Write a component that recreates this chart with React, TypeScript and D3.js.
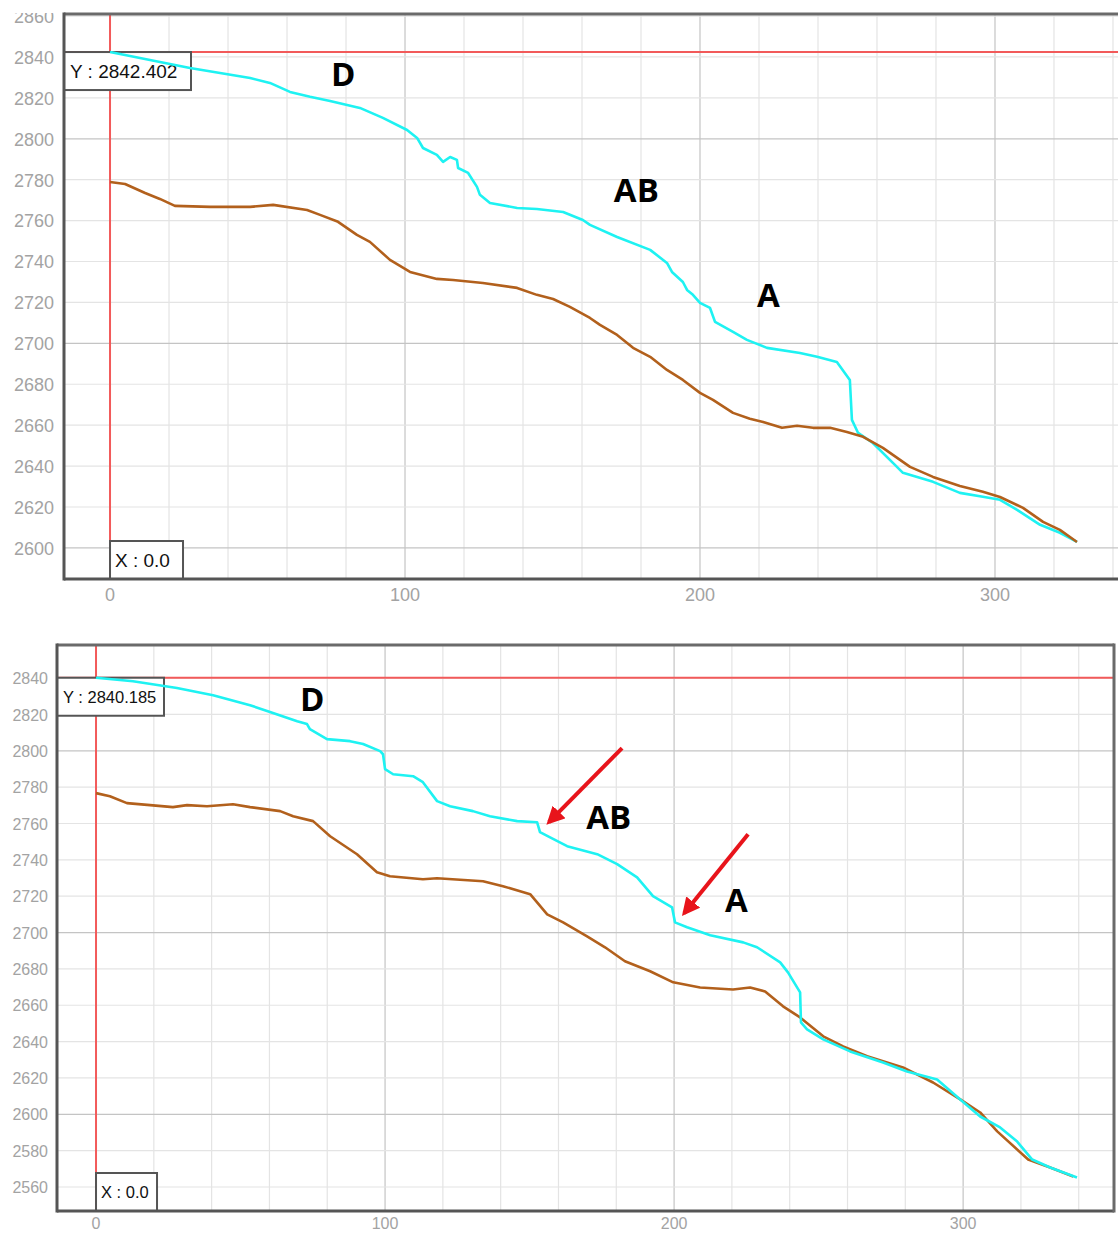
import React from 'react';
import * as d3 from 'd3';

// top chart, cyan trace [x, depth]
const topCyan: [number, number][] = [
  [0, 2842.4], [27.1, 2834.6], [47.5, 2829.7], [54.2, 2827.3], [61.0, 2822.9], [67.8, 2820.5],
  [74.6, 2818.5], [84.7, 2815.1], [92.5, 2810.2], [100.7, 2804.3], [104.1, 2800.4], [106.1, 2795.5],
  [110.8, 2792.1], [112.9, 2788.7], [115.3, 2791.1], [117.6, 2789.7], [118.0, 2785.7], [121.4, 2783.3],
  [124.4, 2776.5], [125.4, 2772.6], [128.8, 2768.6], [138.0, 2766.2], [144.7, 2765.7], [153.6, 2764.2],
  [160.3, 2760.3], [162.7, 2757.9], [171.9, 2752.0], [183.1, 2745.7], [188.8, 2739.3], [190.5, 2734.9],
  [194.2, 2730.0], [195.6, 2726.1], [197.6, 2723.7], [200.0, 2719.8], [203.4, 2717.3], [205.1, 2710.5],
  [211.2, 2705.6], [215.9, 2701.7], [222.7, 2697.8], [233.9, 2695.3], [239.7, 2693.4], [246.4, 2690.9],
  [250.8, 2682.1], [251.5, 2662.6], [253.6, 2656.2], [258.6, 2651.3], [265.4, 2641.6], [268.8, 2636.7],
  [279.0, 2632.3], [288.1, 2626.9], [295.9, 2625.0], [301.7, 2623.5], [307.5, 2618.6], [315.3, 2611.3],
  [322.0, 2607.4], [327.8, 2602.9],
];

// top chart, brown trace
const topBrown: [number, number][] = [
  [0, 2778.9], [5.1, 2777.9], [11.9, 2773.5], [16.9, 2770.6], [22.0, 2767.2], [33.9, 2766.7],
  [47.5, 2766.7], [55.3, 2767.7], [66.8, 2765.2], [71.2, 2762.8], [77.3, 2759.4], [83.7, 2753.0],
  [88.1, 2749.6], [94.9, 2740.8], [101.7, 2734.9], [110.8, 2731.5], [116.3, 2731.0], [126.4, 2729.5],
  [138.0, 2727.1], [144.7, 2723.7], [150.2, 2721.7], [155.9, 2717.8], [162.7, 2712.4], [166.1, 2709.0],
  [171.9, 2704.1], [177.3, 2697.8], [183.1, 2693.4], [188.8, 2687.0], [194.2, 2682.1], [200.0, 2675.8],
  [204.4, 2672.4], [211.2, 2666.0], [216.9, 2663.1], [221.4, 2661.6], [227.8, 2658.7], [232.9, 2659.7],
  [238.3, 2658.7], [244.1, 2658.7], [249.8, 2656.7], [255.3, 2654.3], [262.0, 2648.9], [271.2, 2639.6],
  [279.0, 2634.7], [288.1, 2630.3], [295.9, 2627.4], [301.7, 2624.9], [309.5, 2619.6], [316.3, 2612.7],
  [322.0, 2608.8], [327.8, 2602.9],
];

// bottom chart, cyan trace
const botCyan: [number, number][] = [
  [0, 2840.2], [12.8, 2838.3], [28.0, 2834.5], [40.5, 2830.6], [53.3, 2825.1], [60.2, 2821.3],
  [69.6, 2816.3], [73.0, 2814.7], [74.0, 2811.9], [79.9, 2806.4], [87.9, 2805.3], [92.4, 2803.7],
  [98.3, 2799.8], [99.3, 2798.1], [100.0, 2789.9], [102.8, 2787.1], [109.7, 2786.0], [113.1, 2782.7],
  [118.0, 2772.3], [122.5, 2769.5], [130.4, 2766.8], [136.3, 2764.0], [145.7, 2761.3], [152.6, 2760.7],
  [153.6, 2755.2], [157.1, 2752.4], [163.0, 2747.5], [173.4, 2743.1], [180.3, 2737.6], [187.2, 2730.4],
  [192.7, 2720.0], [199.3, 2713.9], [200.3, 2705.6], [204.5, 2702.9], [212.5, 2698.5], [223.9, 2694.6],
  [228.7, 2691.9], [236.7, 2683.6], [239.4, 2678.1], [243.6, 2667.1], [243.9, 2650.6], [246.0, 2646.7],
  [251.6, 2641.2], [260.9, 2634.6], [272.3, 2628.5], [280.6, 2623.6], [291.0, 2619.2], [299.0, 2608.2],
  [305.9, 2598.8], [312.8, 2592.8], [318.7, 2585.0], [323.9, 2575.1], [330.1, 2570.7], [339.4, 2565.2],
];

// bottom chart, brown trace
const botBrown: [number, number][] = [
  [0, 2776.7], [4.8, 2775.0], [10.7, 2771.2], [18.7, 2770.1], [26.6, 2769.0], [31.5, 2770.1],
  [38.4, 2769.5], [47.4, 2770.6], [53.3, 2769.0], [63.7, 2766.8], [68.2, 2764.0], [75.1, 2761.3],
  [81.0, 2753.0], [90.3, 2743.1], [97.2, 2733.2], [101.7, 2731.0], [113.1, 2729.3], [118.0, 2729.9],
  [133.9, 2728.2], [140.8, 2725.5], [150.2, 2721.1], [156.1, 2710.0], [161.6, 2705.6], [169.9, 2697.9],
  [176.1, 2691.9], [183.0, 2684.2], [191.7, 2678.7], [199.7, 2672.6], [209.0, 2669.8], [220.4, 2668.7],
  [226.3, 2669.8], [231.5, 2667.6], [237.7, 2659.4], [243.6, 2653.3], [251.6, 2642.9], [258.5, 2637.4],
  [266.8, 2631.9], [279.2, 2625.8], [289.6, 2617.5], [299.0, 2608.2], [305.9, 2601.0], [311.8, 2590.6],
  [322.5, 2575.1], [330.1, 2570.7], [338.1, 2565.8],
];

const xTickLabels = [0, 100, 200, 300];
const topYTicks = [2600, 2620, 2640, 2660, 2680, 2700, 2720, 2740, 2760, 2780, 2800, 2820, 2840, 2860];
const botYTicks = [2560, 2580, 2600, 2620, 2640, 2660, 2680, 2700, 2720, 2740, 2760, 2780, 2800, 2820, 2840];

// cursor readouts
const topCursor = { x: 0, y: 2842.402, label: 'Y : 2842.402', xLabel: 'X : 0.0' };
const botCursor = { x: 0, y: 2840.185, label: 'Y : 2840.185', xLabel: 'X : 0.0' };

// text annotations [label, x, depth] (left edge / baseline)
const topNotes: [string, number, number][] = [['D', 74.9, 2825.8], ['AB', 170.8, 2769.1], ['A', 219.3, 2717.8]];
const botNotes: [string, number, number][] = [['D', 70.6, 2821.8], ['AB', 169.6, 2756.9], ['A', 217.6, 2711.1]];
// arrows [x1, y1, x2, y2] in data units
const botArrows: [number, number, number, number][] = [
  [182.0, 2801.5, 156.7, 2760.7],
  [225.6, 2754.1, 203.5, 2710.6],
];

const CYAN = '#1ef2f2';
const BROWN = '#b2601c';
const RED = '#f25a5a';

interface ChartProps {
  frame: { left: number; top: number; right: number; bottom: number };
  xDom: [number, number];
  yDom: [number, number];
  cyan: [number, number][];
  brown: [number, number][];
  yTicks: number[];
  cursor: { x: number; y: number; label: string; xLabel: string };
  notes: [string, number, number][];
  arrows: [number, number, number, number][];
  tickSize: number;
  boxFont: number;
  boxW: number;
  xBoxW: number;
  labelRight: number;
  xLabelGap: number;
  rightBorder: boolean;
  cyanOnTop: boolean;
  id: string;
}

const Chart: React.FC<ChartProps> = (p) => {
  const { frame } = p;
  const x = d3.scaleLinear().domain(p.xDom).range([frame.left, frame.right]);
  const y = d3.scaleLinear().domain(p.yDom).range([frame.bottom, frame.top]);
  const line = d3.line<[number, number]>().x(d => x(d[0])).y(d => y(d[1]));

  const xGrid = d3.range(Math.ceil(p.xDom[0] / 20) * 20, p.xDom[1], 20);
  const yGrid = d3.range(Math.ceil(p.yDom[0] / 20) * 20, p.yDom[1], 20);

  const cx = x(p.cursor.x);
  const cy = y(p.cursor.y);
  const boxH = 38;
  const font = "'Liberation Sans', Arial, sans-serif";

  const cyanPath = <path d={line(p.cyan) ?? ''} fill="none" stroke={CYAN} strokeWidth={2.6} strokeLinejoin="round" />;
  const brownPath = <path d={line(p.brown) ?? ''} fill="none" stroke={BROWN} strokeWidth={2.6} strokeLinejoin="round" />;

  return (
    <g>
      <defs>
        <marker id={`arrow-${p.id}`} viewBox="0 0 10 10" refX="8" refY="5" markerWidth="4.5" markerHeight="4.5" orient="auto">
          <path d="M0,0 L10,5 L0,10 z" fill="#e8141b" />
        </marker>
      </defs>
      {/* grid */}
      {xGrid.map(v => (
        <line key={'gx' + v} x1={x(v)} x2={x(v)} y1={frame.top} y2={frame.bottom}
          stroke={v % 100 === 0 ? '#c4c4c4' : '#e4e4e4'} strokeWidth={1.2} />
      ))}
      {yGrid.map(v => (
        <line key={'gy' + v} x1={frame.left} x2={frame.right} y1={y(v)} y2={y(v)}
          stroke={v % 100 === 0 ? '#c4c4c4' : '#e4e4e4'} strokeWidth={1.2} />
      ))}

      {/* crosshair */}
      <line x1={cx} x2={cx} y1={frame.top} y2={frame.bottom} stroke={RED} strokeWidth={2} />
      <line x1={frame.left} x2={frame.right} y1={cy} y2={cy} stroke={RED} strokeWidth={2} />

      {/* cursor readouts (under the traces) */}
      <rect x={frame.left} y={cy} width={p.boxW} height={boxH} fill="#fff" stroke="#555" strokeWidth={2} />
      <text x={frame.left + 6} y={cy + boxH / 2 + p.boxFont * 0.36} fontFamily={font}
        fontSize={p.boxFont} fill="#111">{p.cursor.label}</text>
      <rect x={cx} y={frame.bottom - boxH} width={p.xBoxW} height={boxH} fill="#fff" stroke="#555" strokeWidth={2} />
      <text x={cx + 5} y={frame.bottom - boxH / 2 + p.boxFont * 0.36} fontFamily={font}
        fontSize={p.boxFont} fill="#111">{p.cursor.xLabel}</text>

      {p.cyanOnTop ? <>{brownPath}{cyanPath}</> : <>{cyanPath}{brownPath}</>}

      {/* frame */}
      <line x1={frame.left} x2={frame.right} y1={frame.top} y2={frame.top} stroke="#6a6a6a" strokeWidth={3} />
      <line x1={frame.left} x2={frame.right} y1={frame.bottom} y2={frame.bottom} stroke="#555" strokeWidth={3} />
      <line x1={frame.left} x2={frame.left} y1={frame.top - 1.5} y2={frame.bottom + 1.5} stroke="#555" strokeWidth={3} />
      {p.rightBorder && (
        <line x1={frame.right} x2={frame.right} y1={frame.top - 1.5} y2={frame.bottom + 1.5} stroke="#6a6a6a" strokeWidth={3} />
      )}

      {/* tick labels */}
      {p.yTicks.map(v => (
        <text key={'ty' + v} x={p.labelRight} y={y(v) + p.tickSize * 0.38} textAnchor="end"
          fontFamily={font} fontSize={p.tickSize} fill="#a3a3a3">{v}</text>
      ))}
      {xTickLabels.map(v => (
        <text key={'tx' + v} x={x(v)} y={frame.bottom + p.xLabelGap} textAnchor="middle"
          fontFamily={font} fontSize={p.tickSize} fill="#a3a3a3">{v}</text>
      ))}

      {/* annotations */}
      {p.notes.map(([t, vx, vy]) => (
        <text key={'n' + t} x={x(vx)} y={y(vy)} fontFamily="'Open Sans', sans-serif" fontWeight={700}
          fontSize={33} fill="#000">{t}</text>
      ))}
      {p.arrows.map((a, i) => (
        <line key={'a' + i} x1={x(a[0])} y1={y(a[1])} x2={x(a[2])} y2={y(a[3])}
          stroke="#e8141b" strokeWidth={4} markerEnd={`url(#arrow-${p.id})`} />
      ))}
    </g>
  );
};

const App: React.FC = () => {
  return (
    <svg width={1118} height={1234} style={{ position: 'absolute', left: 0, top: 0, background: '#fff' }}>
      <rect width={1118} height={1234} fill="#fff" />
      <Chart id="top" frame={{ left: 64, top: 14, right: 1118, bottom: 579 }}
        xDom={[-15.6, 341.7]} yDom={[2584.8, 2861]} cyan={topCyan} brown={topBrown}
        yTicks={topYTicks} cursor={topCursor} notes={topNotes} arrows={[]}
        tickSize={18} boxFont={19} boxW={127} xBoxW={73} labelRight={54} xLabelGap={22}
        rightBorder={false} cyanOnTop={false} />
      {/* top edge of the first panel is cropped */}
      <rect x={0} y={0} width={62} height={13} fill="#fff" />
      <Chart id="bot" frame={{ left: 57, top: 645, right: 1114, bottom: 1211 }}
        xDom={[-13.5, 352.2]} yDom={[2546.8, 2858.2]} cyan={botCyan} brown={botBrown}
        yTicks={botYTicks} cursor={botCursor} notes={botNotes} arrows={botArrows}
        tickSize={16} boxFont={16.5} boxW={107} xBoxW={61} labelRight={48} xLabelGap={18}
        rightBorder={true} cyanOnTop={true} />
    </svg>
  );
};

export default App;
